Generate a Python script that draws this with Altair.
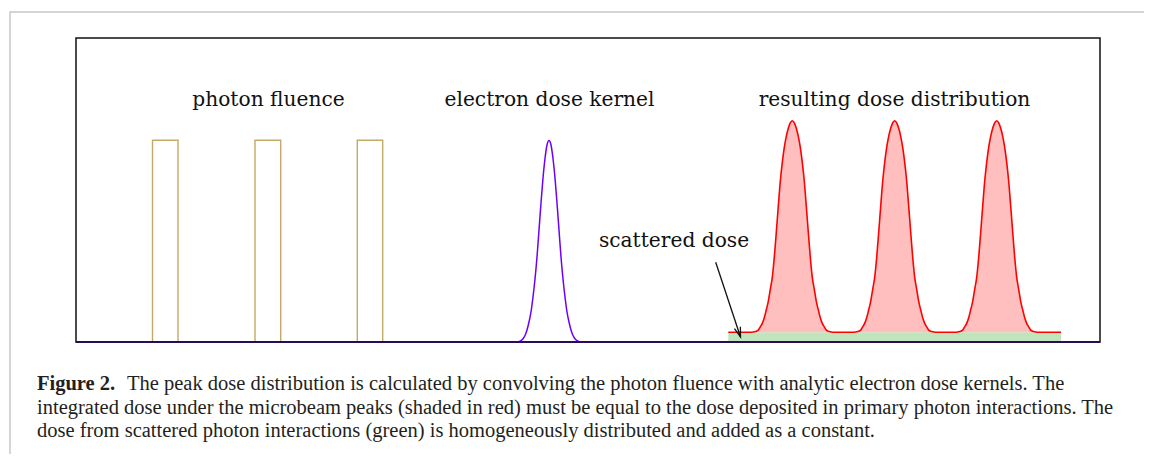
import altair as alt
import pandas as pd

# ---------------- data (x: units from left frame edge, y: units above baseline) -------------
PHOTON_LEFT = [76.5, 179.0, 281.3]
PHOTON_RIGHT = [102.0, 204.7, 306.7]
PHOTON_HEIGHT = [201.7, 201.7, 201.7]

KERNEL_CENTER = 473.0
KERNEL_OFFSET = [-31, -28, -26, -24, -22, -20, -18, -16, -14, -12, -10, -8, -6, -4, -2, 0,
                 2, 4, 6, 8, 10, 12, 14, 16, 18, 20, 22, 24, 26, 28, 31]
KERNEL_HEIGHT = [0, 1.3, 3.2, 6.5, 12, 20, 30, 45, 63, 85, 112, 139, 164, 183.5, 197, 201.5,
                 197, 183.5, 164, 139, 112, 85, 63, 45, 30, 20, 12, 6.5, 3.2, 1.3, 0]
FRAME_X = [0.0, 1024.0]
FRAME_Y = [0.0, 304.0]

DOSE_CENTERS = [716.3, 818.7, 920.7]
PEAK_OFFSET = [-41, -37, -34, -32, -30, -28, -26, -24, -22, -20, -18, -16, -14, -12, -10, -8, -6, -4, -2, 0,
               2, 4, 6, 8, 10, 12, 14, 16, 18, 20, 22, 24, 26, 28, 30, 32, 34, 37, 41]
PEAK_HEIGHT = [0, 0.7, 2.2, 5.5, 9, 14.5, 22.5, 31, 43, 55, 75, 100, 126, 151, 170, 185, 196, 204, 209.5, 211.6,
               209.5, 204, 196, 185, 170, 151, 126, 100, 75, 55, 43, 31, 22.5, 14.5, 9, 5.5, 2.2, 0.7, 0]
SCATTER_RANGE = [652.3, 985.0]
SCATTER_LEVEL = 9.7

LABEL_TEXT = ["photon fluence", "electron dose kernel", "resulting dose distribution", "scattered dose"]
LABEL_X = [192.5, 473.5, 818.5, 598.0]
LABEL_Y = [236.0, 236.0, 236.0, 95.3]

ARROW_X = [639.7, 664.5]
ARROW_Y = [79.7, 5.0]

CAPTION_BOLD = "Figure 2."
CAPTION_LINES = [
    "The peak dose distribution is calculated by convolving the photon fluence with analytic electron dose kernels. The",
    "integrated dose under the microbeam peaks (shaded in red) must be equal to the dose deposited in primary photon interactions. The",
    "dose from scattered photon interactions (green) is homogeneously distributed and added as a constant.",
]
CAPTION_X = [51.0, -39.0, -39.0]
CAPTION_Y = [-48.0, -71.5, -95.0]
CAPTION_BOLD_X = -39.0

BORDER_X = [-66.0, 1200.0]
BORDER_Y = [-300.0, 330.0]

# ---------------- tables -------------
XS = alt.Scale(domain=[-68, 1068], nice=False, zero=False)
YS = alt.Scale(domain=[-112, 334], nice=False, zero=False)

photon = pd.DataFrame({"x1": PHOTON_LEFT, "x2": PHOTON_RIGHT, "h": PHOTON_HEIGHT})

kx = [FRAME_X[0]] + [KERNEL_CENTER + o for o in KERNEL_OFFSET] + [FRAME_X[1]]
ky = [0.0] + KERNEL_HEIGHT + [0.0]
kernel = pd.DataFrame({"x": kx, "y": ky, "o": range(len(kx))})

rx = [SCATTER_RANGE[0]]
ry = [SCATTER_LEVEL]
for c in DOSE_CENTERS:
    for o, h in zip(PEAK_OFFSET, PEAK_HEIGHT):
        rx.append(c + o)
        ry.append(SCATTER_LEVEL + h)
rx.append(SCATTER_RANGE[1])
ry.append(SCATTER_LEVEL)
dose = pd.DataFrame({"x": rx, "y": ry, "base": [SCATTER_LEVEL] * len(rx), "o": range(len(rx))})

scatter = pd.DataFrame({"x1": [SCATTER_RANGE[0]], "x2": [SCATTER_RANGE[1]], "y1": [0.0], "y2": [SCATTER_LEVEL]})
frame = pd.DataFrame({"x1": [FRAME_X[0]], "x2": [FRAME_X[1]], "y1": [FRAME_Y[0]], "y2": [FRAME_Y[1]]})
border = pd.DataFrame({"x1": [BORDER_X[0]], "x2": [BORDER_X[1]], "y1": [BORDER_Y[0]], "y2": [BORDER_Y[1]]})
labels = pd.DataFrame({"t": LABEL_TEXT, "x": LABEL_X, "y": LABEL_Y})
arrow = pd.DataFrame({"x": [ARROW_X[0]], "y": [ARROW_Y[0]], "x2": [ARROW_X[1]], "y2": [ARROW_Y[1]]})
arrowhead = pd.DataFrame({"x": [ARROW_X[1]], "y": [ARROW_Y[1]]})
caption = pd.DataFrame({"t": CAPTION_LINES, "x": CAPTION_X, "y": CAPTION_Y})
caption_b = pd.DataFrame({"t": [CAPTION_BOLD], "x": [CAPTION_BOLD_X], "y": [CAPTION_Y[0]]})

X = lambda f: alt.X(f, scale=XS, axis=None)
Y = lambda f: alt.Y(f, scale=YS, axis=None)

border_l = alt.Chart(border).mark_rect(fillOpacity=0, stroke="#c8c8c8", strokeWidth=1.5, clip=True).encode(
    x=X("x1:Q"), x2="x2:Q", y=Y("y1:Q"), y2="y2:Q")

scatter_l = alt.Chart(scatter).mark_rect(fill="#bfe5bd").encode(
    x=X("x1:Q"), x2="x2:Q", y=Y("y1:Q"), y2="y2:Q")

dose_area = alt.Chart(dose).mark_area(fill="#ffbfbf", fillOpacity=1, interpolate="monotone").encode(
    x=alt.X("x:Q", scale=XS, axis=None),
    y=alt.Y("y:Q", scale=YS, axis=None, stack=None),
    y2=alt.Y2("base:Q"))
dose_line = alt.Chart(dose).mark_line(color="#ff0000", strokeWidth=1.6, interpolate="monotone").encode(
    x=X("x:Q"), y=Y("y:Q"), order="o:Q")

photon_l = alt.Chart(photon).mark_rect(fillOpacity=0, stroke="#c4aa66", strokeWidth=1.4).encode(
    x=X("x1:Q"), x2="x2:Q", y=Y("h:Q"), y2=alt.datum(0))

kernel_l = alt.Chart(kernel).mark_line(color="#6a00ff", strokeWidth=1.5, interpolate="monotone").encode(
    x=X("x:Q"), y=Y("y:Q"), order="o:Q")

frame_l = alt.Chart(frame).mark_rect(fillOpacity=0, stroke="#111111", strokeWidth=1.5).encode(
    x=X("x1:Q"), x2="x2:Q", y=Y("y1:Q"), y2="y2:Q")

base_l = alt.Chart(frame).mark_rule(color="#2b0b55", strokeWidth=2).encode(
    x=X("x1:Q"), x2="x2:Q", y=Y("y1:Q"))

labels_l = alt.Chart(labels).mark_text(font="DejaVu Serif", fontSize=20.2, color="#111111",
                                        align="center", baseline="alphabetic").encode(
    x=X("x:Q"), y=Y("y:Q"), text="t:N")

arrow_l = alt.Chart(arrow).mark_rule(color="#111111", strokeWidth=1.3).encode(
    x=X("x:Q"), y=Y("y:Q"), x2="x2:Q", y2="y2:Q")
arrowhead_l = alt.Chart(arrowhead).mark_point(shape="M-0.32,-1L0,0L0.32,-1", size=380, filled=False,
                                               stroke="#111111", strokeWidth=1.3, angle=341.6, opacity=1).encode(
    x=X("x:Q"), y=Y("y:Q"))

caption_l = alt.Chart(caption).mark_text(font="Liberation Serif", fontSize=20.5, color="#231f20",
                                          align="left", baseline="alphabetic").encode(
    x=X("x:Q"), y=Y("y:Q"), text="t:N")
caption_bl = alt.Chart(caption_b).mark_text(font="Liberation Serif", fontSize=20.5, fontWeight="bold",
                                             color="#231f20", align="left", baseline="alphabetic").encode(
    x=X("x:Q"), y=Y("y:Q"), text="t:N")

chart = alt.layer(
    border_l, scatter_l, dose_area, dose_line, photon_l, kernel_l, frame_l, base_l,
    labels_l, arrow_l, arrowhead_l, caption_l, caption_bl
).properties(width=1136, height=446, padding=0, autosize="none").configure_view(stroke=None)

chart.save("out.html", embed_options={"renderer": "svg", "actions": False})
